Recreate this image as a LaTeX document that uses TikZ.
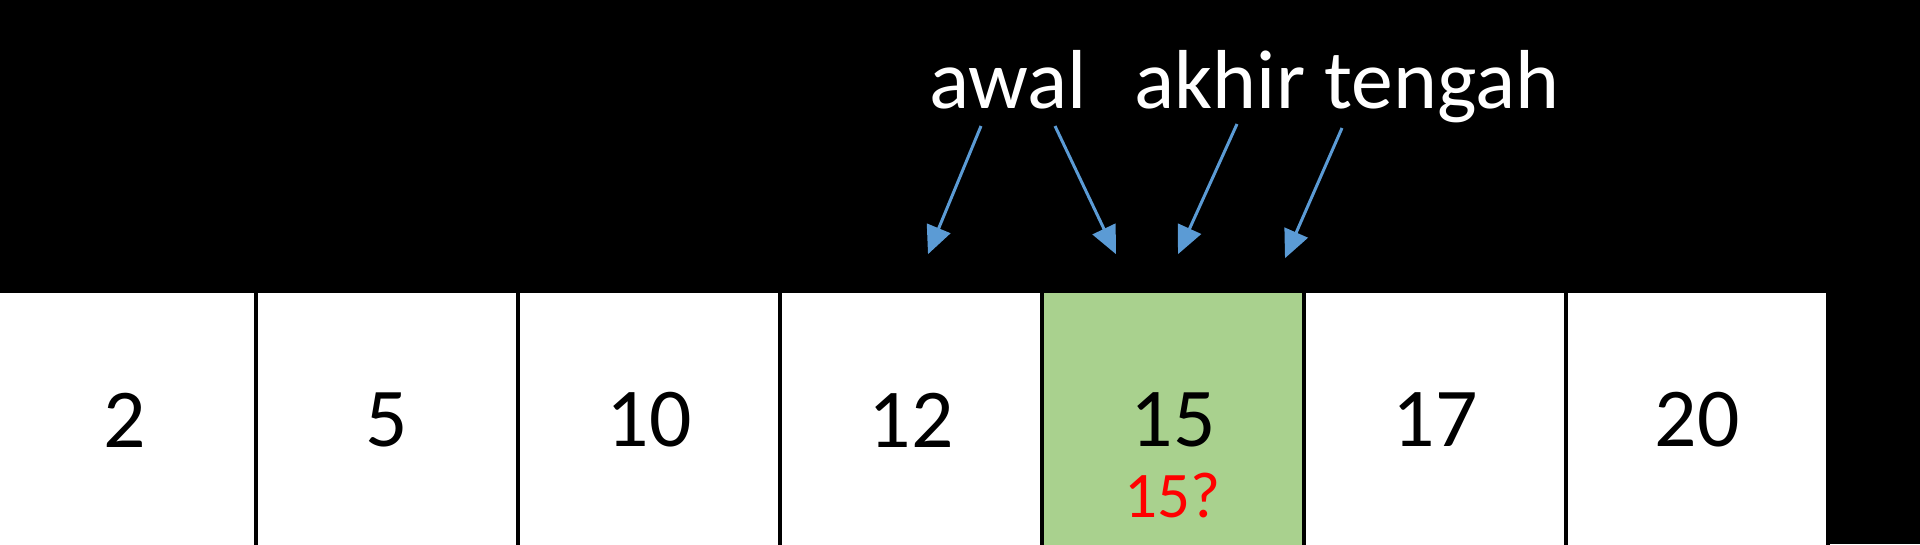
\documentclass[tikz,border=0pt]{standalone}
\usepackage{fontspec}
\setmainfont{Carlito}
\usetikzlibrary{positioning, calc, arrows.meta}
\usepackage{xcolor}
\definecolor{xblue}{HTML}{5B9BD5}
\definecolor{xgreen}{HTML}{A9D18E}
\definecolor{xred}{HTML}{FF0000}

\begin{document}
\begin{tikzpicture}[x=0.01cm, y=-0.01cm,
		cell/.style={draw=black, line width=0.35mm, fill=white, minimum width=2.62cm, minimum height=2.58cm, inner sep=0pt, font=\fontsize{23.8}{28}\selectfont},
		tag/.style={text=white, inner sep=0pt, anchor=base, font=\fontsize{23.8}{28}\selectfont},
		pointer/.style={xblue, line width=0.3mm, -{Triangle[length=0.28cm, width=0.25cm]}},
	]
		\fill[black] (0,0) rectangle (1920,544);
		\useasboundingbox (0,0) rectangle (1920,544);
		\clip (0,0) rectangle (1920,544);
		\def\W{262}
		% array cells
		\foreach \i/\v in {1/2, 2/5, 3/10, 4/12, 6/17, 7/20}{
			\node[cell] (c\i) at ({\i*\W-137},420) {\v};
		}
		\node[cell, fill=xgreen] (c5) at ({5*\W-137},420) {15};
		\node[text=xred, anchor=base, inner sep=0pt, font=\fontsize{18.5}{22}\selectfont] (cek) at ($(c5.center)+(0,97)$) {15?};
		% pointers
		\node[tag] (awal) at (1008,108) {awal};
		\node[tag] (akhir) at (1220,108) {akhir};
		\node[tag] (tengah) at (1442,108) {tengah};
		\draw[pointer] ($(awal.base)+(-27,18)$) -- ($(c4.north)+(17,-35)$);
		\draw[pointer] ($(awal.base)+(47,18)$) -- ($(c5.north)+(-57,-35)$);
		\draw[pointer] ($(akhir.base)+(17,16)$) -- ($(c5.north)+(5,-35)$);
		\draw[pointer] ($(tengah.base)+(-100,20)$) -- ($(c5.north)+(112,-31)$);
	\end{tikzpicture}
\end{document}
